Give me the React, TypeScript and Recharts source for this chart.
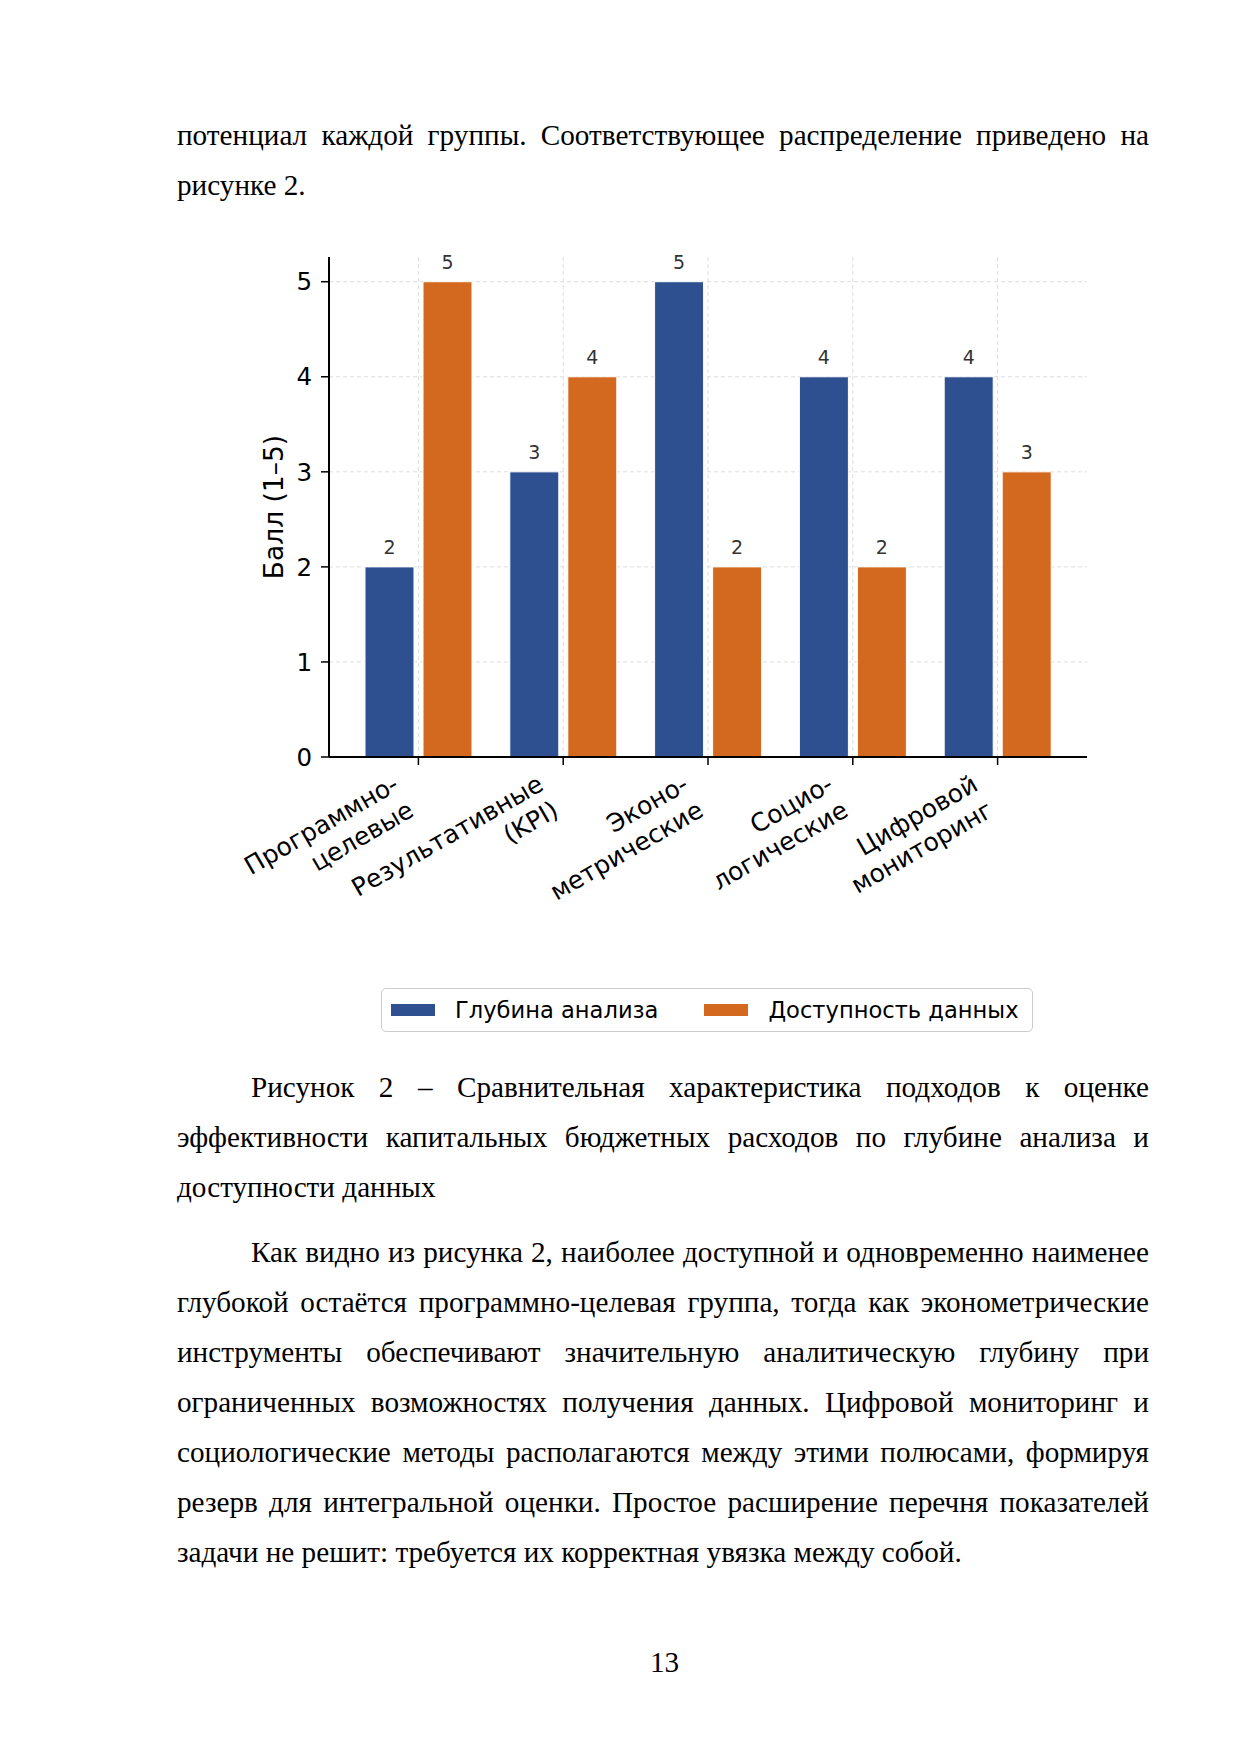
import React from "react";
import {
  BarChart,
  Bar,
  XAxis,
  YAxis,
  CartesianGrid,
  Legend,
  LabelList,
} from "recharts";

// categories (two-line labels) and the two series
const CATEGORIES = [
  "Программно-\nцелевые",
  "Результативные\n(KPI)",
  "Эконо-\nметрические",
  "Социо-\nлогические",
  "Цифровой\nмониторинг",
];
const DEPTH = [2, 3, 5, 4, 4];
const ACCESS = [5, 4, 2, 2, 3];
const SERIES_NAMES = ["Глубина анализа", "Доступность данных"];
const Y_TICKS = [0, 1, 2, 3, 4, 5];

const BLUE = "#2E5090";
const ORANGE = "#D2691E";
const SANS = "'DejaVu Sans', sans-serif";
const SERIF = "'Liberation Serif', 'Times New Roman', serif";

const data = CATEGORIES.map((name, i) => ({
  name,
  depth: DEPTH[i],
  access: ACCESS[i],
}));

// text lines of the page, as laid out in the document
const TOP_LINES = [
  { text: "потенциал каждой группы. Соответствующее распределение приведено на", justify: true },
  { text: "рисунке 2.", justify: false },
];
const CAPTION_LINES = [
  { text: "Рисунок 2 – Сравнительная характеристика подходов к оценке", justify: true, indent: true },
  { text: "эффективности капитальных бюджетных расходов по глубине анализа и", justify: true },
  { text: "доступности данных", justify: false },
];
const BODY_LINES = [
  { text: "Как видно из рисунка 2, наиболее доступной и одновременно наименее", justify: true, indent: true },
  { text: "глубокой остаётся программно-целевая группа, тогда как эконометрические", justify: true },
  { text: "инструменты обеспечивают значительную аналитическую глубину при", justify: true },
  { text: "ограниченных возможностях получения данных. Цифровой мониторинг и", justify: true },
  { text: "социологические методы располагаются между этими полюсами, формируя", justify: true },
  { text: "резерв для интегральной оценки. Простое расширение перечня показателей", justify: true },
  { text: "задачи не решит: требуется их корректная увязка между собой.", justify: false },
];

const TEXT_LEFT = 177;
const TEXT_WIDTH = 972;
const INDENT = 74;
const LINE_H = 50;

function TextBlock({ lines, top }: { lines: any[]; top: number }) {
  return (
    <>
      {lines.map((l, i) => (
        <div
          key={i}
          style={{
            position: "absolute",
            top: top + i * LINE_H,
            left: TEXT_LEFT + (l.indent ? INDENT : 0),
            width: TEXT_WIDTH - (l.indent ? INDENT : 0),
            fontFamily: SERIF,
            fontSize: 29.2,
            lineHeight: `${LINE_H}px`,
            color: "#000",
            textAlign: l.justify ? "justify" : "left",
            textAlignLast: l.justify ? "justify" : "left",
          }}
        >
          {l.text}
        </div>
      ))}
    </>
  );
}

function CategoryTick(props: any) {
  const { x, y, payload } = props;
  const lines = String(payload.value).split("\n");
  const fs = 25;
  const lh = fs * 1.2;
  const asc = fs * 0.93;
  const h = (lines.length - 1) * lh + asc + fs * 0.24;
  return (
    <g transform={`translate(${x - h * 0.5},${y})`}>
      <text
        transform="rotate(-30)"
        textAnchor="end"
        fontSize={fs}
        fontFamily={SANS}
        fill="#000"
      >
        {lines.map((line, i) => (
          <tspan key={i} x={0} y={asc + i * lh}>
            {line}
          </tspan>
        ))}
      </text>
    </g>
  );
}

function LegendBox() {
  const colors = [BLUE, ORANGE];
  return (
    <div
      style={{
        boxSizing: "border-box",
        width: "100%",
        height: "100%",
        border: "1.5px solid #cccccc",
        borderRadius: 5,
        display: "flex",
        alignItems: "center",
        paddingLeft: 9,
        fontFamily: SANS,
        fontSize: 22.6,
        color: "#000",
        background: "#fff",
        whiteSpace: "nowrap",
      }}
    >
      {SERIES_NAMES.map((name, i) => (
        <div
          key={name}
          style={{ display: "flex", alignItems: "center", marginLeft: i ? 46 : 0 }}
        >
          <span
            style={{ width: 44, height: 12, background: colors[i], marginRight: 20 }}
          />
          <span>{name}</span>
        </div>
      ))}
    </div>
  );
}

export default function App() {
  return (
    <div
      style={{
        position: "absolute",
        top: 0,
        left: 0,
        width: 1241,
        height: 1754,
        background: "#fff",
      }}
    >
      <TextBlock lines={TOP_LINES} top={110} />

      <div style={{ position: "absolute", left: 200, top: 220 }}>
        <BarChart
          width={900}
          height={830}
          data={data}
          margin={{ top: 37, right: 13, left: 0, bottom: 143 }}
          barSize={49}
          barGap={9}
        >
          <CartesianGrid
            stroke="#dddddd"
            strokeDasharray="4 3"
            strokeWidth={1}
            syncWithTicks
          />
          <XAxis
            dataKey="name"
            interval={0}
            height={150}
            padding={{ left: 17, right: 17 }}
            axisLine={{ stroke: "#000", strokeWidth: 2 }}
            tickLine={{ stroke: "#000", strokeWidth: 1.5 }}
            tickSize={8}
            tickMargin={4}
            tick={<CategoryTick />}
          />
          <YAxis
            width={129}
            type="number"
            domain={[0, 5.26]}
            ticks={Y_TICKS}
            allowDataOverflow
            axisLine={{ stroke: "#000", strokeWidth: 2 }}
            tickLine={{ stroke: "#000", strokeWidth: 1.5 }}
            tickSize={8}
            tickMargin={9}
            tick={{ fill: "#000", fontSize: 24.5, fontFamily: SANS }}
            label={{
              position: "insideLeft",
              content: (p: any) => {
                const vb = p.viewBox || {};
                const cx = (vb.x || 0) + 73;
                const cy = (vb.y || 0) + (vb.height || 0) / 2;
                return (
                  <text
                    x={cx}
                    y={cy}
                    transform={`rotate(-90 ${cx} ${cy})`}
                    textAnchor="middle"
                    dominantBaseline="central"
                    fontSize={26.5}
                    fontFamily={SANS}
                    fill="#000"
                  >
                    Балл (1–5)
                  </text>
                );
              },
            }}
          />
          <Legend
            layout="horizontal"
            verticalAlign="middle"
            align="center"
            wrapperStyle={{ position: "absolute", left: 181, top: 768, width: 652, height: 44 }}
            content={() => <LegendBox />}
          />
          <Bar
            dataKey="depth"
            name={SERIES_NAMES[0]}
            fill={BLUE}
            stroke="#fff"
            strokeWidth={1}
            isAnimationActive={false}
          >
            <LabelList
              dataKey="depth"
              position="top"
              offset={13}
              fill="#333"
              fontSize={19}
              fontFamily={SANS}
            />
          </Bar>
          <Bar
            dataKey="access"
            name={SERIES_NAMES[1]}
            fill={ORANGE}
            stroke="#fff"
            strokeWidth={1}
            isAnimationActive={false}
          >
            <LabelList
              dataKey="access"
              position="top"
              offset={13}
              fill="#333"
              fontSize={19}
              fontFamily={SANS}
            />
          </Bar>
        </BarChart>
      </div>

      <TextBlock lines={CAPTION_LINES} top={1062} />
      <TextBlock lines={BODY_LINES} top={1227} />

      <div
        style={{
          position: "absolute",
          top: 1637,
          left: 0,
          width: 1241,
          paddingLeft: 88,
          boxSizing: "border-box",
          textAlign: "center",
          fontFamily: SERIF,
          fontSize: 29.2,
          lineHeight: `${LINE_H}px`,
          color: "#000",
        }}
      >
        13
      </div>
    </div>
  );
}
